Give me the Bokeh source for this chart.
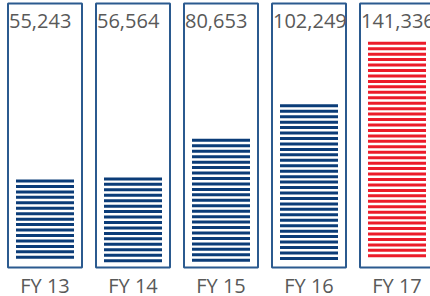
from bokeh.plotting import figure
from bokeh.models import Range1d
from bokeh.core.properties import value
from bokeh.embed import file_html
from bokeh.resources import INLINE

# ---- data ----
years = ["FY 13", "FY 14", "FY 15", "FY 16", "FY 17"]
revenue = [55243, 56564, 80653, 102249, 141336]
labels = ["55,243", "56,564", "80,653", "102,249", "141,336"]
bar_colors = ["#0B3C78", "#0B3C78", "#0B3C78", "#0B3C78", "#EC1C2A"]

# ---- layout constants (styling) ----
W, H = 430, 296
UPP = 625.0                            # value units per pixel
Y_END = 267.4 * UPP
Y_START = Y_END - H * UPP
X_START, X_END = -44.5 / 88, (W - 44.5) / 88
XPP = (X_END - X_START) / W            # x units per pixel

BOX_HALF = 37 * XPP
STRIPE_HALF = 29 * XPP
BOX_TOP = Y_END - 3 * UPP
BOX_BOTTOM = Y_END - 267 * UPP
STRIPE_FLOOR = Y_END - 262 * UPP
PITCH = 5.45 * UPP
THICK = 3.0 * UPP

p = figure(width=W, height=H, output_backend="svg", toolbar_location=None,
           x_range=Range1d(X_START, X_END), y_range=Range1d(Y_START, Y_END),
           min_border=0)
p.xaxis.visible = False
p.yaxis.visible = False
p.grid.visible = False
p.outline_line_color = None
p.background_fill_color = "white"

xs = list(range(len(years)))

# boxes
p.quad(left=[x - BOX_HALF for x in xs], right=[x + BOX_HALF for x in xs],
       bottom=[BOX_BOTTOM] * len(xs), top=[BOX_TOP] * len(xs),
       fill_color="white", line_color="#2B5A8F", line_width=2)

# striped bars
sl, sr, sb, st, sc = [], [], [], [], []
for x, v, c in zip(xs, revenue, bar_colors):
    top = v
    while top - THICK >= STRIPE_FLOOR:
        sl.append(x - STRIPE_HALF)
        sr.append(x + STRIPE_HALF)
        st.append(top)
        sb.append(top - THICK)
        sc.append(c)
        top -= PITCH
p.quad(left=sl, right=sr, bottom=sb, top=st, fill_color=sc, line_color=None)

# value labels
p.text(x=[x - BOX_HALF + 1 * XPP for x in xs], y=[Y_END - 20.5 * UPP] * len(xs),
       text=labels, text_font=value("Open Sans"), text_font_size="20px",
       text_color="#595959", text_align="left", text_baseline="alphabetic")

# category labels
p.text(x=xs, y=[Y_END - 284.5 * UPP] * len(xs), text=years,
       text_font=value("Open Sans"), text_font_size="20px",
       text_color="#595959", text_align="center", text_baseline="alphabetic")

open("out.html", "w").write(file_html(p, INLINE))
